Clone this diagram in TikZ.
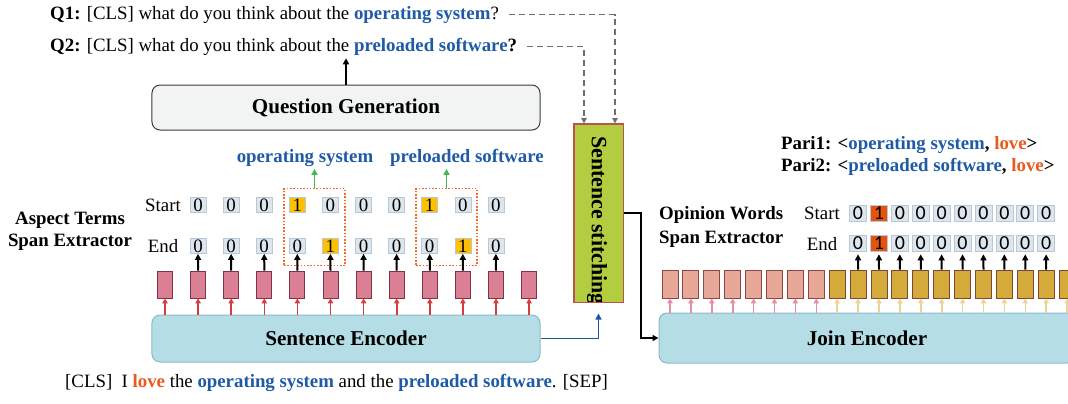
\documentclass[tikz,border=0pt]{standalone}
\usepackage{fontspec}
\setmainfont{Liberation Serif}
\newfontfamily\plainserif{Liberation Serif}
\newfontfamily\digitfont{Carlito}
\usetikzlibrary{arrows.meta,calc}
\definecolor{tblue}{RGB}{30,90,165}
\definecolor{torange}{RGB}{232,90,30}
\definecolor{qgfill}{RGB}{242,244,244}
\definecolor{qgdraw}{RGB}{60,60,60}
\definecolor{encfill}{RGB}{181,221,230}
\definecolor{encdraw}{RGB}{140,185,200}
\definecolor{stfill}{RGB}{178,206,64}
\definecolor{stdraw}{RGB}{192,80,77}
\definecolor{pinkfill}{RGB}{219,127,148}
\definecolor{pinkdraw}{RGB}{130,50,70}
\definecolor{salfill}{RGB}{232,168,152}
\definecolor{saldraw}{RGB}{140,70,70}
\definecolor{goldfill}{RGB}{212,170,58}
\definecolor{golddraw}{RGB}{130,70,50}
\definecolor{redarr}{RGB}{214,60,60}
\definecolor{pinkarr}{RGB}{232,140,165}
\definecolor{goldarr}{RGB}{236,212,150}
\definecolor{cellfill}{RGB}{221,229,237}
\definecolor{celldraw}{RGB}{185,200,215}
\definecolor{hly}{RGB}{255,192,0}
\definecolor{hlo}{RGB}{228,84,15}
\definecolor{dotbox}{RGB}{244,104,40}
\definecolor{greenarr}{RGB}{70,185,85}
\definecolor{grayd}{RGB}{110,110,110}
\definecolor{bluearr}{RGB}{25,85,160}
\begin{document}
\begin{tikzpicture}[x=1bp,y=-1bp,
  txt/.style={inner sep=0pt, font=\fontsize{18.9}{22}\selectfont},
  btxt/.style={inner sep=0pt, font=\bfseries\fontsize{18.9}{22}\selectfont},
  titlefont/.style={font=\bfseries\fontsize{21.2}{24}\selectfont},
  qgbox/.style={draw=qgdraw, fill=qgfill, line width=1bp, rounded corners=8bp, titlefont},
  encbox/.style={draw=encdraw, fill=encfill, line width=1bp, rounded corners=8bp, titlefont},
  stbox/.style={draw=stdraw, fill=stfill, line width=1bp, inner sep=0pt},
  lcell/.style={draw=celldraw, line width=0.6bp, minimum width=16bp, minimum height=15bp, inner sep=0pt, font=\fontsize{19}{19}\selectfont},
  rcell/.style={draw=celldraw, line width=0.6bp, minimum width=17bp, minimum height=16bp, inner sep=0pt, font=\digitfont\fontsize{20}{20}\selectfont},
  prect/.style={draw=pinkdraw, fill=pinkfill, line width=0.9bp, minimum width=15bp, minimum height=27bp, inner sep=0pt},
  srect/.style={draw=saldraw, fill=salfill, line width=0.9bp, minimum width=16bp, minimum height=28bp, inner sep=0pt},
  grect/.style={draw=golddraw, fill=goldfill, line width=0.9bp, minimum width=16bp, minimum height=28bp, inner sep=0pt},
  tip/.style={-{Triangle[length=6bp,width=6bp]}},
  blkarr/.style={tip, draw=black, line width=2bp},
  redarrow/.style={-{Triangle[length=5bp,width=5.5bp]}, draw=redarr, line width=1.6bp},
  pinkarrow/.style={-{Triangle[length=5bp,width=5.5bp]}, draw=pinkarr, line width=1.6bp},
  goldarrow/.style={-{Triangle[length=5bp,width=5.5bp]}, draw=goldarr, line width=1.6bp},
  dasharr/.style={-{Triangle[length=5.5bp,width=5.5bp]}, draw=grayd, line width=1.4bp, dash pattern=on 6bp off 4bp},
  dotted box/.style={draw=dotbox, line width=1.6bp, dash pattern=on 1.6bp off 1.7bp, inner sep=0pt}
]
\useasboundingbox (0,0) rectangle (1068,403);
\clip (0,0) rectangle (1068,403);

% questions
\node[txt, anchor=base west] (q1) at (50,19) {\textbf{Q1:} [CLS] what do you think about the \textcolor{tblue}{\textbf{operating system}}?};
\node[txt, anchor=base west] (q2) at (50,51) {\textbf{Q2:} [CLS] what do you think about the \textcolor{tblue}{\textbf{preloaded software}}\textbf{?}};

% question generation
\node[qgbox, minimum width=388bp, minimum height=45bp] (qg) at (346,107.5) {Question Generation};
\draw[blkarr, shorten >=3bp] (qg.north) -- (qg.north |- q2.south);

% sentence stitching
\node[stbox, minimum width=49bp, minimum height=178bp] (st) at (598.5,213) {};
\begin{scope}
  \clip (st.north west) rectangle (st.south east);
  \node[rotate=-90, inner sep=0pt, anchor=west, font=\plainserif\bfseries\fontsize{22}{22}\selectfont] (stt) at (597,136) {Sentence stitching};
\end{scope}
\draw[draw=stdraw, line width=1bp] (st.north west) rectangle (st.south east);

\draw[dasharr] ([xshift=10bp]q1.east) -| ([xshift=16.5bp]st.north);
\draw[dasharr] ([xshift=10bp]q2.east) -| ([xshift=-14.5bp]st.north);

% sentence encoder
\node[encbox, minimum width=388bp, minimum height=47bp] (se) at (346,338.5) {Sentence Encoder};
\draw[tip, draw=bluearr, line width=1.9bp] (se.east) -| ([yshift=-11bp]st.south);

% join encoder
\node[encbox, minimum width=416bp, minimum height=50bp] (je) at (867,338) {Join Encoder};
\draw[blkarr] (st.east) -- ++(17.5,0) |- (je.west);

% left span extractor
\node[btxt, align=center] (ate) at (70,231) {Aspect Terms\\[0bp]Span Extractor};
\node[txt] (lstart) at (163,205) {Start};
\node[txt] (lend) at (163,246) {End};

\foreach \i/\v/\c in {0/0/cellfill,1/0/cellfill,2/0/cellfill,3/1/hly,4/0/cellfill,5/0/cellfill,6/0/cellfill,7/1/hly,8/0/cellfill,9/0/cellfill}
  \node[lcell, fill=\c] (s\i) at (198+33.1*\i,205) {\v};
\foreach \i/\v/\c in {0/0/cellfill,1/0/cellfill,2/0/cellfill,3/0/cellfill,4/1/hly,5/0/cellfill,6/0/cellfill,7/0/cellfill,8/1/hly,9/0/cellfill}
  \node[lcell, fill=\c] (e\i) at (198+33.1*\i,246) {\v};

\node[dotted box, minimum width=61bp, minimum height=77bp] (box1) at (314.5,227) {};
\node[dotted box, minimum width=61bp, minimum height=77bp] (box2) at (446.5,227) {};

\node[btxt, text=tblue] (osl) at (305,158) {operating system};
\node[btxt, text=tblue] (psl) at (467,158) {preloaded software};
\draw[tip, draw=greenarr, line width=1.6bp, shorten >=2bp] (box1.north) -- (box1.north |- osl.south);
\draw[tip, draw=greenarr, line width=1.6bp, shorten >=2bp] (box2.north) -- (box2.north |- psl.south);

\foreach \k in {0,...,11} {
  \node[prect] (p\k) at (165+33.1*\k,284.5) {};
  \draw[redarrow] (p\k.south |- se.north) -- (p\k.south);
}
\foreach \i in {0,...,9} {
  \pgfmathtruncatemacro\kk{\i+1}
  \draw[blkarr] (p\kk.north) -- (e\i.south);
}

% right span extractor
\node[btxt, anchor=west] (ow1) at (659,215) {Opinion Words};
\node[btxt, anchor=west] (ow2) at (659,239) {Span Extractor};
\node[txt] (rstart) at (822,213) {Start};
\node[txt] (rend) at (822,244) {End};

\node[btxt, anchor=west] (pair1) at (781,145) {Pari1: <\textcolor{tblue}{operating system}, \textcolor{torange}{love}>};
\node[btxt, anchor=west] (pair2) at (781,167) {Pari2: <\textcolor{tblue}{preloaded software}, \textcolor{torange}{love}>};

\foreach \i/\v/\c in {0/0/cellfill,1/1/hlo,2/0/cellfill,3/0/cellfill,4/0/cellfill,5/0/cellfill,6/0/cellfill,7/0/cellfill,8/0/cellfill,9/0/cellfill} {
  \node[rcell, fill=\c] (rs\i) at (858+20.9*\i,213) {\v};
  \node[rcell, fill=\c] (re\i) at (858+20.9*\i,243) {\v};
}

\foreach \k in {0,...,7} {
  \node[srect] (j\k) at (670+20.9*\k,284) {};
  \draw[pinkarrow] (j\k.south |- je.north) -- (j\k.south);
}
\foreach \k in {8,...,19} {
  \node[grect] (j\k) at (670+20.9*\k,284) {};
  \draw[goldarrow] (j\k.south |- je.north) -- (j\k.south);
}
\foreach \i in {0,...,9} {
  \pgfmathtruncatemacro\kk{\i+9}
  \draw[blkarr, shorten >=3bp] (j\kk.north) -- (re\i.south);
}

% bottom sentence
\node[txt, anchor=west] (sent) at (65,383) {[CLS]\ \ I \textcolor{torange}{\textbf{love}} the \textcolor{tblue}{\textbf{operating system}} and the \textcolor{tblue}{\textbf{preloaded software}}. [SEP]};
\end{tikzpicture}
\end{document}
